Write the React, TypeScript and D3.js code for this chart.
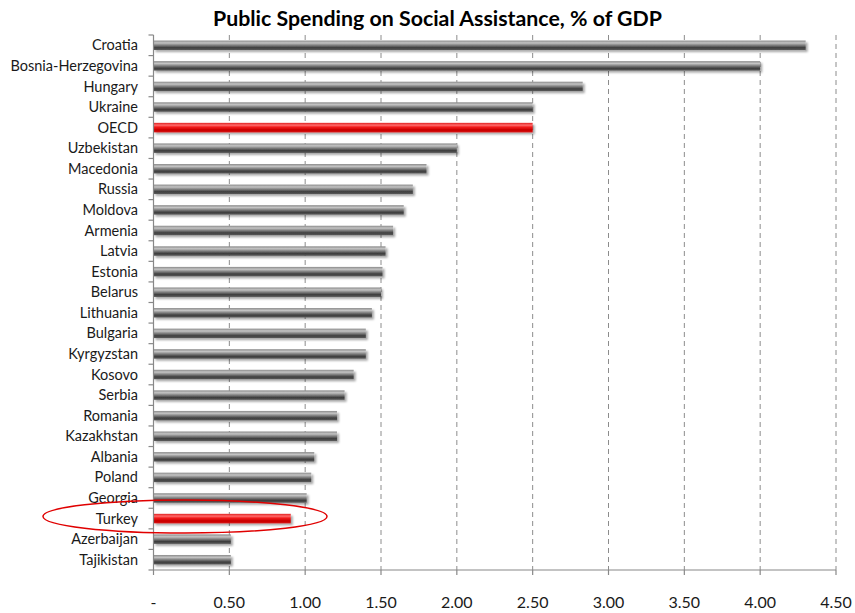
import React from "react";
import * as d3 from "d3";

const categories = ["Croatia","Bosnia-Herzegovina","Hungary","Ukraine","OECD","Uzbekistan","Macedonia","Russia","Moldova","Armenia","Latvia","Estonia","Belarus","Lithuania","Bulgaria","Kyrgyzstan","Kosovo","Serbia","Romania","Kazakhstan","Albania","Poland","Georgia","Turkey","Azerbaijan","Tajikistan"];
const values = [4.30,4.00,2.83,2.50,2.50,2.00,1.80,1.71,1.65,1.58,1.53,1.51,1.50,1.44,1.40,1.40,1.32,1.26,1.21,1.21,1.06,1.04,1.01,0.905,0.51,0.51];
const highlighted = ["OECD","Turkey"];
const ticks = [0,0.5,1,1.5,2,2.5,3,3.5,4,4.5];
const tickLabels = ["-","0.50","1.00","1.50","2.00","2.50","3.00","3.50","4.00","4.50"];
const title = "Public Spending on Social Assistance, % of GDP";

const W = 855, H = 613;
const left = 153.5, right = 836, top = 35, bottom = 570;
const font = "Lato, 'Open Sans', sans-serif";

export default function App() {
  const x = d3.scaleLinear().domain([0, 4.5]).range([left, right]);
  const y = d3.scaleBand().domain(categories).range([top, bottom]).paddingInner(0.54).paddingOuter(0.27);
  const band = (bottom - top) / categories.length;
  const bh = y.bandwidth();
  return (
    <svg width={W} height={H} style={{ position: "absolute", left: 0, top: 0, background: "#fff" }}>
      <defs>
        <linearGradient id="gGray" x1="0" y1="0" x2="0" y2="1">
          <stop offset="0" stopColor="#8a8a8a" />
          <stop offset="0.25" stopColor="#c4c4c4" />
          <stop offset="0.45" stopColor="#8c8c8c" />
          <stop offset="0.75" stopColor="#3e3e3e" />
          <stop offset="1" stopColor="#5a5a5a" />
        </linearGradient>
        <linearGradient id="gRed" x1="0" y1="0" x2="0" y2="1">
          <stop offset="0" stopColor="#e02020" />
          <stop offset="0.25" stopColor="#ff6a6a" />
          <stop offset="0.45" stopColor="#f21c1c" />
          <stop offset="0.75" stopColor="#c80000" />
          <stop offset="1" stopColor="#d81010" />
        </linearGradient>
        <filter id="shadow" x="-5%" y="-50%" width="110%" height="250%">
          <feGaussianBlur in="SourceAlpha" stdDeviation="1.3" />
          <feOffset dx="1.5" dy="2" result="b" />
          <feComponentTransfer><feFuncA type="linear" slope="0.35" /></feComponentTransfer>
          <feMerge><feMergeNode /><feMergeNode in="SourceGraphic" /></feMerge>
        </filter>
      </defs>
      <text x={437.5} y={26} textAnchor="middle" fontFamily={font} fontWeight="bold" fontSize={21} textLength={449} lengthAdjust="spacingAndGlyphs" fill="#000">{title}</text>
      {ticks.slice(1).map((t) => (
        <line key={"g" + t} x1={x(t)} x2={x(t)} y1={top} y2={bottom} stroke="#8c8c8c" strokeWidth={1} strokeDasharray="5,4" />
      ))}
      {categories.map((c, i) => (
        <rect key={c} x={x(0)} y={y(c)!} width={x(values[i]) - x(0)} height={bh}
          fill={highlighted.includes(c) ? "url(#gRed)" : "url(#gGray)"} filter="url(#shadow)" />
      ))}
      <line x1={left} x2={left} y1={top} y2={bottom} stroke="#888" strokeWidth={1.2} />
      {d3.range(categories.length + 1).map((i) => (
        <line key={"lt" + i} x1={left - 5} x2={left} y1={top + i * band} y2={top + i * band} stroke="#888" strokeWidth={1.2} />
      ))}
      <line x1={left} x2={right} y1={bottom} y2={bottom} stroke="#888" strokeWidth={1.2} />
      {ticks.map((t) => (
        <line key={"bt" + t} x1={x(t)} x2={x(t)} y1={bottom} y2={bottom + 5} stroke="#888" strokeWidth={1.2} />
      ))}
      {categories.map((c) => (
        <text key={"l" + c} x={138} y={y(c)! + bh / 2} dy="0.35em" textAnchor="end" fontFamily={font} fontSize={14.5} fill="#1a1a1a">{c}</text>
      ))}
      {ticks.map((t, i) => (
        <text key={"tl" + t} x={x(t)} y={602} dy="0.35em" textAnchor="middle" fontFamily={font} fontSize={16} fill="#1a1a1a">{tickLabels[i]}</text>
      ))}
      <ellipse cx={185} cy={516.5} rx={142} ry={16.5} fill="none" stroke="#e00000" strokeWidth={1.5} />
    </svg>
  );
}
